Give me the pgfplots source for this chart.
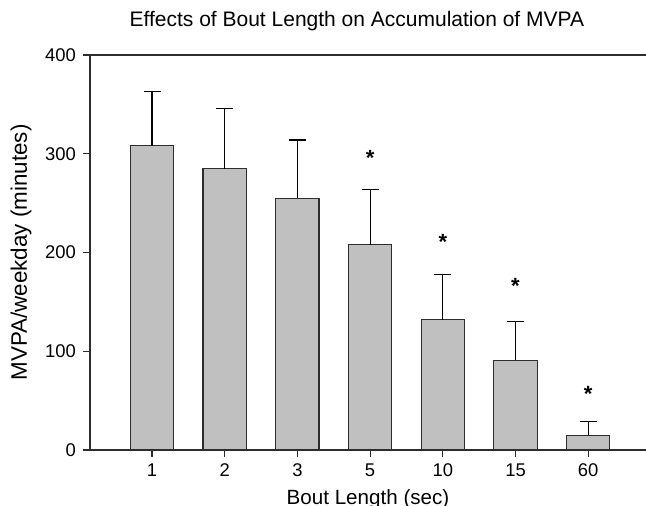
\documentclass[border=0pt]{standalone}
\usepackage{fontspec}
\setmainfont{Liberation Sans}
\usepackage{pgfplots}
\pgfplotsset{compat=1.18}
\definecolor{barfill}{RGB}{192,192,192}
\definecolor{edge}{RGB}{45,45,45}

\begin{document}
\begin{tikzpicture}
% 1px = 0.5pt, picture is 646x506 px
\clip (0,0) rectangle (323pt,253pt);
\begin{axis}[
    at={(45pt,28pt)}, anchor=south west,
    scale only axis,
    width=278pt, height=197.5pt,
    xmin=-0.853, xmax=6.795,
    ymin=0, ymax=400,
    separate axis lines,
    axis x line=box,
    axis y line=left,
    axis line style={-, edge, line width=0.6pt},
    xtick pos=lower, ytick pos=lower,
    tick align=outside,
    major tick length=3.5pt,
    tick style={edge, line width=0.6pt},
    xtick={0,...,6},
    xticklabels={1,2,3,5,10,15,60},
    ytick={0,100,200,300,400},
    /pgf/number format/assume math mode=true,
    tick label style={font=\fontsize{9.2}{11}\selectfont},
    xlabel={Bout Length (sec)},
    ylabel={MVPA/weekday (minutes)},
    xlabel style={font=\fontsize{10.3}{12}\selectfont, yshift=0.5pt},
    ylabel style={font=\fontsize{11.2}{13}\selectfont},
    title={Effects of Bout Length on Accumulation of MVPA},
    title style={font=\fontsize{10.5}{12}\selectfont, at={(0.48,1)}, anchor=base, yshift=8pt},
]
\addplot[ybar, bar width=21.65pt, fill=barfill, draw=edge, line width=0.6pt,
    error bars/.cd, y dir=plus, y explicit,
    error bar style={black, line width=0.6pt},
    error mark options={rotate=90, mark size=4.25pt, black, line width=0.6pt}]
coordinates {
    (0,308) +- (0,55)
    (1,285) +- (0,61)
    (2,255) +- (0,59)
    (3,208) +- (0,56)
    (4,132) +- (0,46)
    (5,91)  +- (0,39)
    (6,15)  +- (0,14)
};
% significance markers
\addplot[draw=none, mark=none, nodes near coords={*},
    every node near coord/.append style={anchor=center, font=\bfseries\fontsize{11}{13}\selectfont}]
coordinates {(3,296) (4,211) (5,166) (6,57)};
\end{axis}
\end{tikzpicture}
\end{document}
